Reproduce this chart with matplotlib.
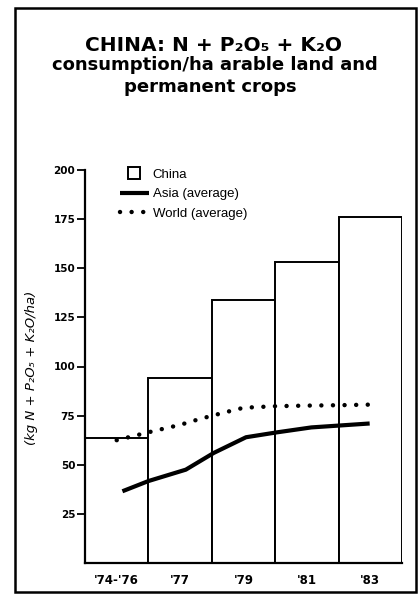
import numpy as np
import matplotlib.pyplot as plt
import matplotlib.patches as mpatches
from matplotlib.legend_handler import HandlerPatch

# values (kg nutrients / ha)
periods = ["'74-'76", "'77", "'79", "'81", "'83"]
china = [63.5, 94, 134, 153, 176]

asia_x = [0.09, 0.5, 1.09, 1.53, 2.04, 2.53, 3.07, 3.53, 3.99]
asia_y = [36.5, 41.7, 47.5, 56, 64, 66.5, 69, 70, 71]

world_x = [0.0, 0.25, 0.6, 1.0, 1.3, 1.7, 2.0, 2.5, 3.0, 3.5, 4.0]
world_y = [62.5, 64.5, 67.3, 70.3, 73.2, 76.6, 79, 79.8, 80.1, 80.3, 80.6]

yticks = [25, 50, 75, 100, 125, 150, 175, 200]

W, H = 418, 608
fig = plt.figure(figsize=(W/100, H/100), dpi=100)
ax = fig.add_axes([85/W, 1-563/H, 317/W, 393/H])

x = np.arange(len(periods))
bars = ax.bar(x, china, width=1.0, facecolor='white', edgecolor='black', linewidth=1.4)
asia, = ax.plot(asia_x, asia_y, color='black', lw=3.0, solid_capstyle='butt')
world, = ax.plot(world_x, world_y, color='black', lw=3.2,
                 linestyle=(0, (0.01, 2.6)), dash_capstyle='round')

ax.set_xlim(-0.5, 4.5)
ax.set_ylim(0, 200)
ax.set_xticks(x)
ax.set_xticklabels(periods, fontweight='bold', fontsize=8.5)
ax.set_yticks(yticks)
ax.set_yticklabels([str(v) for v in yticks], fontweight='bold', fontsize=7.5)
ax.tick_params(axis='x', length=0, pad=8)
ax.tick_params(axis='y', length=6, width=1.3, pad=1)
for s in ['top', 'right']:
    ax.spines[s].set_visible(False)
for s in ['left', 'bottom']:
    ax.spines[s].set_linewidth(1.6)

fig.text(32/W, 1-368/H, '(kg N + P₂O₅ + K₂O/ha)', rotation=90, ha='center', va='center',
         fontsize=9.5, fontstyle='italic', family='DejaVu Sans')


def square(legend, orig_handle, xdescent, ydescent, width, height, fontsize):
    s = 9.0
    return mpatches.Rectangle((width - s - 6 - xdescent, -ydescent - (s - height)/2), s, s)


ax.legend([bars.patches[0], asia, world], ['China', 'Asia (average)', 'World (average)'],
          loc='upper left', bbox_to_anchor=(113/W, 1-162/H), bbox_transform=fig.transFigure,
          frameon=False, borderpad=0, handlelength=2.2, handletextpad=0.3,
          labelspacing=0.55, prop={'family': 'Liberation Sans', 'size': 9.5},
          handler_map={bars.patches[0]: HandlerPatch(patch_func=square)})

fig.text(213/W, 1-51/H, 'CHINA: N + P₂O₅ + K₂O', ha='center', va='baseline',
         fontsize=14.5, fontweight='bold', family='DejaVu Sans')
fig.text(215/W, 1-70/H, 'consumption/ha arable land and', ha='center', va='baseline',
         fontsize=13, fontweight='bold', family='DejaVu Sans')
fig.text(210/W, 1-92/H, 'permanent crops', ha='center', va='baseline',
         fontsize=13, fontweight='bold', family='DejaVu Sans')

# page frame
fig.patches.append(mpatches.Rectangle((15/W, 1-592/H), 401/W, 584/H, transform=fig.transFigure,
                                      fill=False, edgecolor='black', linewidth=1.8))

fig.savefig('out.png', dpi=100)
